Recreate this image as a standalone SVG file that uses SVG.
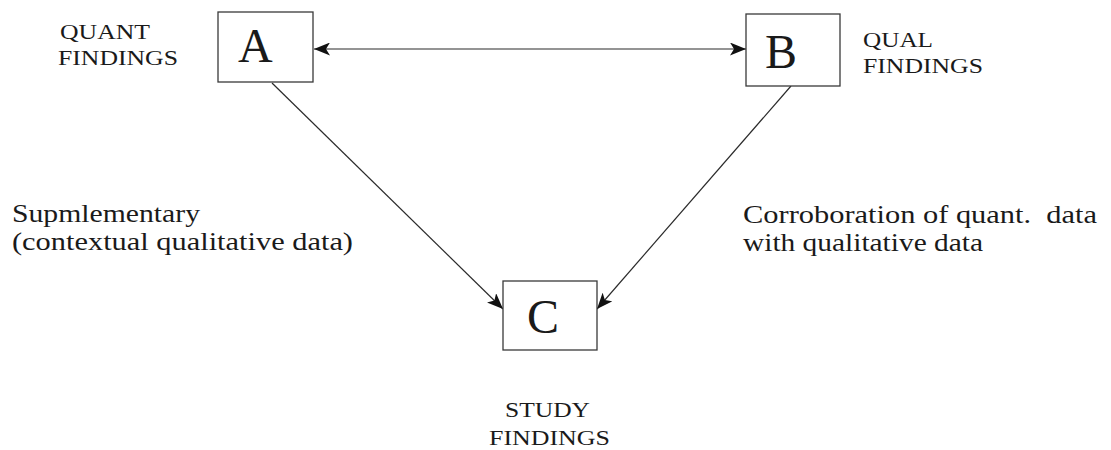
<svg xmlns="http://www.w3.org/2000/svg" width="1111" height="450" viewBox="0 0 1111 450">
  <style>
    .box { fill: #ffffff; stroke: #3a3a3a; stroke-width: 1.3; }
    .letter { font-family: "Liberation Serif", "Times New Roman", serif; font-size: 48px; fill: #1a1a1a; }
    .label { font-family: "Liberation Serif", "Times New Roman", serif; font-size: 22px; fill: #1a1a1a; }
    .note { font-family: "Liberation Serif", "Times New Roman", serif; font-size: 25px; fill: #1a1a1a; white-space: pre; }
    .edge { stroke: #2a2a2a; stroke-width: 1.2; fill: none; }
  </style>
  <defs>
    <marker id="arrow" viewBox="0 0 16 13" refX="16" refY="6.5" markerWidth="16" markerHeight="13" markerUnits="userSpaceOnUse" orient="auto-start-reverse">
      <path d="M0,0 L16,6.5 L0,13 L4,6.5 z" fill="#111111"/>
    </marker>
  </defs>

  <rect width="1111" height="450" fill="#ffffff"/>

  <!-- connectors -->
  <g id="connectors">
    <line class="edge" x1="314" y1="49" x2="746" y2="49" marker-start="url(#arrow)" marker-end="url(#arrow)"/>
    <line class="edge" x1="272" y1="83" x2="503" y2="309" marker-end="url(#arrow)"/>
    <line class="edge" x1="791" y1="86" x2="597" y2="309" marker-end="url(#arrow)"/>
  </g>

  <!-- node A: quantitative findings -->
  <g id="node-A">
    <rect class="box" x="218" y="12" width="95" height="70"/>
    <text class="letter" x="238" y="62">A</text>
    <text class="label" x="60" y="39" textLength="90" lengthAdjust="spacingAndGlyphs">QUANT</text>
    <text class="label" x="58" y="65" textLength="120" lengthAdjust="spacingAndGlyphs">FINDINGS</text>
  </g>

  <!-- node B: qualitative findings -->
  <g id="node-B">
    <rect class="box" x="746" y="14" width="94" height="72"/>
    <text class="letter" x="765" y="68">B</text>
    <text class="label" x="863" y="47" textLength="70" lengthAdjust="spacingAndGlyphs">QUAL</text>
    <text class="label" x="863" y="73" textLength="120" lengthAdjust="spacingAndGlyphs">FINDINGS</text>
  </g>

  <!-- node C: study findings -->
  <g id="node-C">
    <rect class="box" x="503" y="281" width="94" height="69"/>
    <text class="letter" x="527" y="333">C</text>
    <text class="label" x="505" y="417" textLength="85" lengthAdjust="spacingAndGlyphs">STUDY</text>
    <text class="label" x="489" y="445" textLength="121" lengthAdjust="spacingAndGlyphs">FINDINGS</text>
  </g>

  <!-- edge notes -->
  <g id="edge-notes">
    <text class="note" x="12" y="222" textLength="188" lengthAdjust="spacingAndGlyphs">Supmlementary</text>
    <text class="note" x="12" y="250" textLength="341" lengthAdjust="spacingAndGlyphs">(contextual qualitative data)</text>
    <text class="note" x="743" y="223" textLength="354" lengthAdjust="spacingAndGlyphs" xml:space="preserve">Corroboration of quant.  data</text>
    <text class="note" x="743" y="251" textLength="240" lengthAdjust="spacingAndGlyphs">with qualitative data</text>
  </g>
</svg>
